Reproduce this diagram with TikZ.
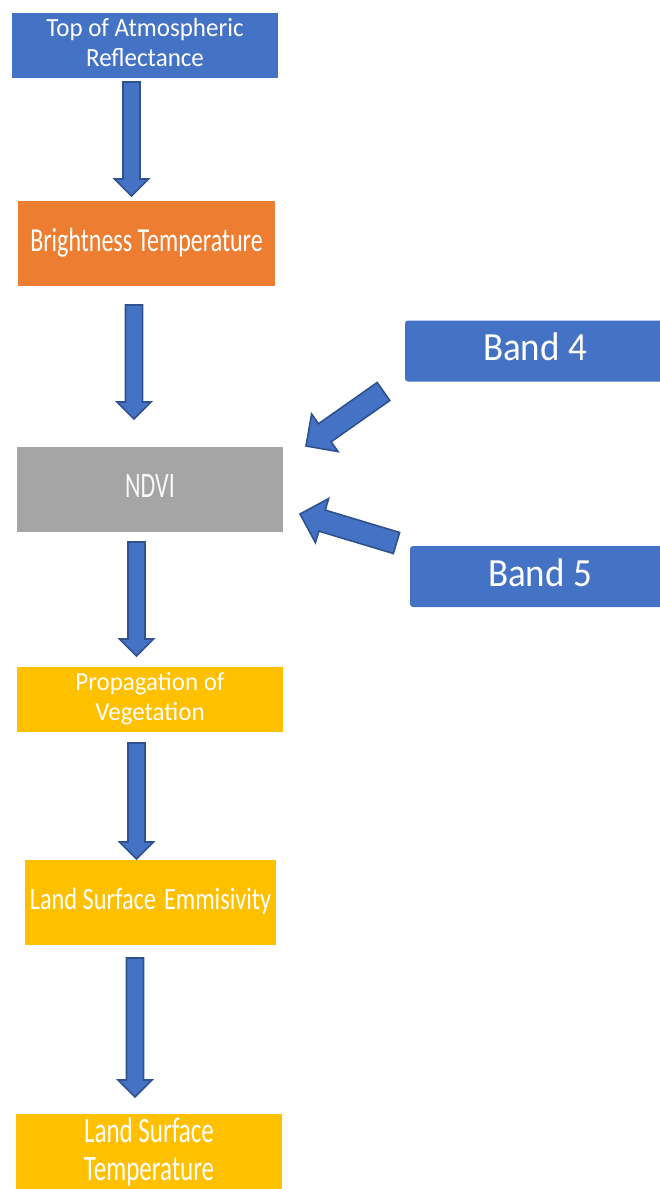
\documentclass[tikz,border=0pt]{standalone}
\usepackage{fontspec}
\setmainfont{Carlito}
\usetikzlibrary{calc}

\definecolor{accblue}{HTML}{4472C4}
\definecolor{accorange}{HTML}{ED7D31}
\definecolor{accgray}{HTML}{A5A5A5}
\definecolor{accgold}{HTML}{FFC000}
\definecolor{arrowline}{HTML}{2F528F}

% block arrow from #1 to #2, shaft half width #3, head half width #4
\newcommand{\blockarrow}[4]{%
  \coordinate (hb) at ($(#2)!#4!(#1)$);
  \draw[arrowline, fill=accblue, line width=1.6pt, line join=miter]
    ($(#1)!#3!90:(#2)$) -- ($(hb)!#3!-90:(#1)$) -- ($(hb)!#4!-90:(#1)$)
    -- (#2) -- ($(hb)!#4!90:(#1)$) -- ($(hb)!#3!90:(#1)$)
    -- ($(#1)!#3!-90:(#2)$) -- cycle;}
% text stretched upwards
\newcommand{\vs}[2]{\scalebox{1}[#1]{\begin{tabular}{@{}c@{}}#2\end{tabular}}}

\begin{document}
\begin{tikzpicture}[x=1pt, y=-1pt,
  every node/.style = {shape=rectangle, align=center,
    inner sep=0pt, text=white},
  stepbox/.style = {minimum width=266pt, minimum height=85pt},
  bandbox/.style = {fill=accblue, rounded corners=3pt,
    minimum width=260pt, minimum height=61pt,
    font=\fontsize{37}{44}\selectfont}]
  \useasboundingbox (0,0) rectangle (660,1189);

  \node [stepbox, fill=accblue, minimum height=65pt,
    font=\fontsize{25}{28.5}\selectfont] (toa) at (145,45.5)
    {\vs{1.05}{Top of Atmospheric\\Reflectance}};
  \node [stepbox, fill=accorange, minimum width=257pt,
    font=\fontsize{24}{28}\selectfont] (bright) at (146.5,243.5)
    {\vs{1.4}{Brightness Temperature}};
  \node [stepbox, fill=accgray, text=white!95!gray,
    font=\fontsize{24}{28}\selectfont] (ndvi) at (150,489.5)
    {\vs{1.5}{NDVI}};
  \node [stepbox, fill=accgold, minimum height=65pt,
    font=\fontsize{25}{29}\selectfont] (prop) at (150,699.5)
    {\vs{1.04}{Propagation of\\Vegetation}};
  \node [stepbox, fill=accgold, minimum width=251pt,
    font=\fontsize{24.3}{28}\selectfont] (lse) at (150.5,902.5)
    {\vs{1.28}{Land Surface\hspace{8pt}Emmisivity}};
  \node [stepbox, fill=accgold, minimum height=80pt,
    font=\fontsize{25}{26}\selectfont] (lst) at (149,1154)
    {\vs{1.43}{Land Surface\\Temperature}};

  \node [bandbox] (band4) at (535,351) {\vs{1.08}{Band 4}};
  \node [bandbox] (band5) at (540,576.5) {\vs{1.08}{Band 5}};

  % arrow ends
  \coordinate (a1s) at (131.5,82);   \coordinate (a1e) at (131.5,196);
  \coordinate (a2s) at (134,305);    \coordinate (a2e) at (134,419);
  \coordinate (a3s) at (136.5,542);  \coordinate (a3e) at (136.5,656);
  \coordinate (a4s) at (136.5,743);  \coordinate (a4e) at (136.5,859);
  \coordinate (a5s) at (135,958);    \coordinate (a5e) at (135,1097);
  \coordinate (b4s) at (383.5,391.5); \coordinate (b4e) at (306,446);
  \coordinate (b5s) at (396.5,543);  \coordinate (b5e) at (300,514);

  \blockarrow{a1s}{a1e}{8.5pt}{17pt}
  \blockarrow{a2s}{a2e}{8.5pt}{17pt}
  \blockarrow{a3s}{a3e}{8.5pt}{17pt}
  \blockarrow{a4s}{a4e}{8.5pt}{17pt}
  \blockarrow{a5s}{a5e}{8.5pt}{17pt}
  \blockarrow{b4s}{b4e}{11pt}{23pt}
  \blockarrow{b5s}{b5e}{11pt}{23pt}
\end{tikzpicture}
\end{document}
